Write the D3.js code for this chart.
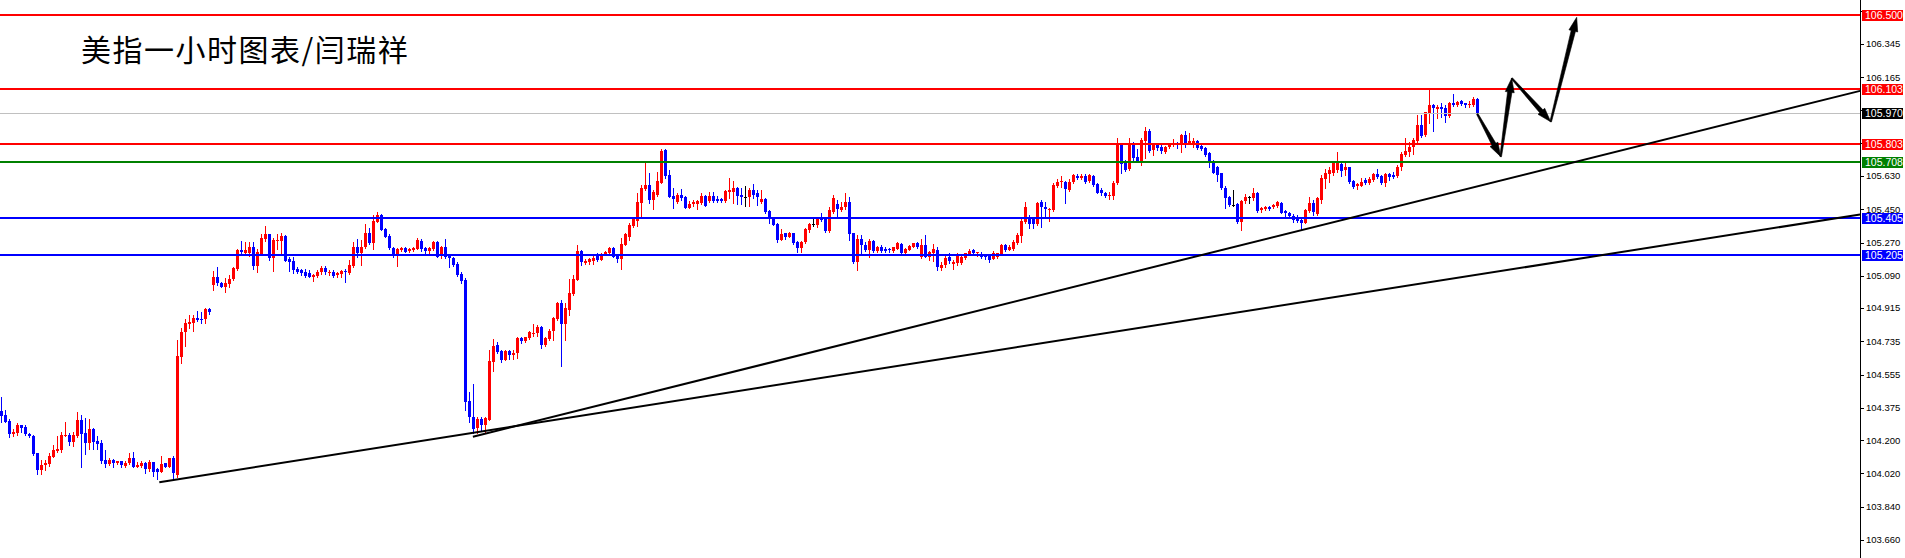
<!DOCTYPE html>
<html><head><meta charset="utf-8">
<script src="https://cdn.jsdelivr.net/npm/d3@7"></script>
<style>html,body{margin:0;padding:0;background:#fff;overflow:hidden}</style>
</head><body>
<svg id="c" width="1905" height="558" style="display:block"></svg>
<script>
const title = "美指一小时图表/闫瑞祥";
// [open, high, low, close] per hour
const ohlc = [
[104.360,104.435,104.300,104.333],[104.338,104.365,104.300,104.300],[104.306,104.317,104.219,104.235],[104.235,104.262,104.225,104.246],
[104.241,104.295,104.230,104.284],[104.284,104.284,104.246,104.268],[104.273,104.284,104.230,104.235],[104.235,104.241,104.219,104.225],
[104.225,104.230,104.121,104.127],[104.132,104.132,104.018,104.040],[104.040,104.094,104.018,104.067],[104.067,104.094,104.040,104.078],
[104.073,104.132,104.062,104.116],[104.110,104.175,104.110,104.148],[104.143,104.225,104.137,104.154],[104.148,104.246,104.137,104.230],
[104.225,104.300,104.225,104.230],[104.230,104.241,104.175,104.192],[104.192,104.246,104.170,104.230],[104.225,104.354,104.219,104.311],
[104.311,104.338,104.056,104.235],[104.241,104.322,104.127,104.186],[104.186,104.317,104.154,104.262],[104.262,104.268,104.154,104.192],
[104.197,104.225,104.154,104.181],[104.186,104.202,104.078,104.089],[104.094,104.148,104.056,104.073],[104.073,104.105,104.067,104.094],
[104.094,104.100,104.056,104.078],[104.078,104.089,104.073,104.089],[104.089,104.089,104.056,104.067],[104.062,104.089,104.056,104.078],
[104.078,104.132,104.073,104.105],[104.105,104.137,104.056,104.056],[104.056,104.083,104.056,104.067],[104.062,104.089,104.056,104.078],
[104.078,104.083,104.024,104.045],[104.045,104.094,104.035,104.083],[104.083,104.083,104.008,104.029],[104.045,104.051,103.991,104.029],
[104.029,104.116,104.029,104.073],[104.078,104.078,104.056,104.056],[104.056,104.105,104.056,104.105],[104.105,104.116,103.991,104.024],
[104.013,104.744,104.002,104.657],[104.652,104.809,104.619,104.787],[104.787,104.857,104.711,104.836],[104.830,104.879,104.809,104.841],
[104.836,104.879,104.792,104.863],[104.863,104.900,104.847,104.852],[104.857,104.895,104.836,104.852],[104.857,104.917,104.836,104.911],
[104.911,104.917,104.884,104.895],[105.041,105.117,105.014,105.084],[105.084,105.138,105.041,105.052],[105.052,105.057,105.030,105.030],
[105.030,105.079,105.003,105.052],[105.046,105.095,105.030,105.073],[105.073,105.138,105.068,105.133],[105.128,105.236,105.122,105.230],
[105.230,105.279,105.214,105.219],[105.214,105.273,105.208,105.230],[105.214,105.273,105.198,105.246],[105.246,105.273,105.128,105.144],
[105.144,105.236,105.111,105.219],[105.208,105.317,105.203,105.295],[105.290,105.360,105.279,105.317],[105.317,105.317,105.176,105.187],
[105.187,105.295,105.117,105.284],[105.279,105.317,105.236,105.284],[105.279,105.322,105.214,105.306],[105.306,105.311,105.171,105.171],
[105.182,105.192,105.117,105.165],[105.171,105.192,105.106,105.122],[105.128,105.138,105.106,105.111],[105.122,105.128,105.095,105.106],
[105.111,105.128,105.084,105.090],[105.106,105.122,105.084,105.084],[105.084,105.100,105.062,105.095],[105.090,105.122,105.084,105.111],
[105.111,105.144,105.100,105.133],[105.133,105.144,105.100,105.111],[105.106,105.122,105.095,105.111],[105.111,105.122,105.084,105.090],
[105.095,105.111,105.084,105.106],[105.100,105.122,105.084,105.117],[105.117,105.128,105.057,105.111],[105.106,105.176,105.100,105.149],
[105.144,105.273,105.138,105.246],[105.246,105.290,105.192,105.214],[105.214,105.284,105.149,105.246],[105.246,105.371,105.241,105.322],
[105.322,105.349,105.263,105.268],[105.268,105.420,105.236,105.387],[105.382,105.436,105.382,105.420],[105.420,105.425,105.339,105.339],
[105.344,105.349,105.301,105.301],[105.306,105.317,105.236,105.241],[105.241,105.246,105.192,105.208],[105.208,105.241,105.144,105.236],
[105.230,105.246,105.225,105.241],[105.241,105.246,105.219,105.219],[105.225,105.241,105.219,105.236],[105.230,105.246,105.225,105.241],
[105.236,105.295,105.236,105.284],[105.279,105.290,105.225,105.236],[105.241,105.246,105.208,105.225],[105.225,105.246,105.214,105.241],
[105.236,105.279,105.230,105.273],[105.273,105.279,105.192,105.192],[105.198,105.252,105.187,105.246],[105.246,105.290,105.187,105.192],
[105.198,105.208,105.138,105.187],[105.187,105.192,105.144,105.149],[105.155,105.165,105.090,105.095],[105.100,105.111,105.052,105.062],
[105.068,105.079,104.365,104.408],[104.414,104.462,104.300,104.327],[104.327,104.505,104.241,104.262],[104.268,104.327,104.241,104.317],
[104.317,104.327,104.257,104.284],[104.284,104.327,104.241,104.322],[104.311,104.689,104.311,104.630],[104.625,104.749,104.576,104.711],
[104.716,104.733,104.673,104.679],[104.684,104.689,104.625,104.635],[104.635,104.689,104.635,104.684],[104.684,104.689,104.641,104.662],
[104.662,104.689,104.641,104.673],[104.673,104.760,104.646,104.754],[104.754,104.760,104.727,104.738],[104.738,104.760,104.733,104.760],
[104.754,104.792,104.749,104.787],[104.776,104.830,104.765,104.781],[104.781,104.825,104.765,104.814],[104.814,104.819,104.700,104.716],
[104.716,104.760,104.711,104.754],[104.749,104.803,104.744,104.792],[104.792,104.868,104.744,104.863],[104.857,104.949,104.852,104.944],
[104.944,104.960,104.603,104.830],[104.830,104.944,104.744,104.917],[104.906,105.073,104.879,104.998],[104.992,105.095,104.987,105.073],
[105.068,105.257,105.068,105.225],[105.225,105.230,105.149,105.165],[105.160,105.182,105.155,105.171],[105.165,105.187,105.155,105.182],
[105.171,105.203,105.155,105.187],[105.198,105.214,105.171,105.176],[105.176,105.214,105.176,105.208],[105.203,105.225,105.203,105.219],
[105.214,105.246,105.208,105.241],[105.241,105.246,105.192,105.192],[105.198,105.203,105.165,105.182],[105.182,105.295,105.128,105.263],
[105.257,105.322,105.257,105.317],[105.301,105.376,105.284,105.366],[105.360,105.409,105.355,105.398],[105.387,105.539,105.360,105.490],
[105.485,105.582,105.414,105.566],[105.561,105.706,105.555,105.582],[105.582,105.647,105.485,105.501],[105.501,105.555,105.452,105.544],
[105.528,105.652,105.523,105.604],[105.593,105.777,105.593,105.766],[105.771,105.777,105.620,105.631],[105.636,105.663,105.517,105.517],
[105.523,105.566,105.458,105.506],[105.490,105.539,105.485,105.528],[105.528,105.561,105.501,105.512],[105.517,105.523,105.458,105.458],
[105.458,105.496,105.458,105.479],[105.479,105.501,105.469,105.490],[105.479,105.501,105.452,105.496],[105.485,105.539,105.479,105.523],
[105.523,105.528,105.469,105.469],[105.496,105.544,105.490,105.523],[105.523,105.544,105.490,105.496],[105.506,105.523,105.490,105.496],
[105.506,105.512,105.490,105.496],[105.496,105.555,105.490,105.550],[105.544,105.620,105.512,105.555],[105.544,105.604,105.485,105.566],
[105.566,105.571,105.479,105.523],[105.528,105.566,105.479,105.517],[105.517,105.577,105.469,105.517],[105.517,105.566,105.469,105.555],
[105.555,105.588,105.512,105.528],[105.539,105.555,105.474,105.517],[105.490,105.555,105.485,105.506],[105.506,105.512,105.431,105.436],
[105.441,105.447,105.376,105.398],[105.403,105.409,105.366,105.366],[105.371,105.376,105.273,105.284],[105.284,105.344,105.284,105.317],
[105.322,105.322,105.290,105.301],[105.301,105.328,105.301,105.322],[105.322,105.322,105.263,105.268],[105.273,105.279,105.219,105.241],
[105.241,105.279,105.219,105.273],[105.273,105.349,105.268,105.344],[105.339,105.376,105.328,105.371],[105.371,105.403,105.360,105.371],
[105.366,105.409,105.355,105.403],[105.409,105.431,105.387,105.393],[105.403,105.409,105.328,105.333],[105.333,105.463,105.328,105.447],
[105.436,105.528,105.431,105.512],[105.479,105.501,105.409,105.452],[105.447,105.490,105.441,105.463],[105.463,105.539,105.452,105.490],
[105.490,105.517,105.284,105.317],[105.322,105.322,105.160,105.165],[105.165,105.311,105.122,105.290],[105.290,105.311,105.214,105.257],
[105.257,105.273,105.225,105.230],[105.230,105.290,105.192,105.279],[105.279,105.284,105.219,105.225],[105.225,105.252,105.219,105.246],
[105.246,105.257,105.219,105.225],[105.236,105.246,105.219,105.225],[105.236,105.241,105.219,105.230],[105.225,105.246,105.219,105.246],
[105.236,105.273,105.236,105.268],[105.263,105.268,105.208,105.214],[105.214,105.241,105.208,105.236],[105.230,105.257,105.230,105.252],
[105.246,105.268,105.246,105.268],[105.268,105.273,105.241,105.246],[105.192,105.290,105.187,105.257],[105.257,105.311,105.192,105.192],
[105.192,105.225,105.176,105.219],[105.214,105.263,105.171,105.236],[105.230,105.246,105.122,105.138],[105.133,105.165,105.122,105.149],
[105.149,105.203,105.138,105.187],[105.192,105.214,105.160,105.171],[105.155,105.176,105.128,105.165],[105.160,105.214,105.149,105.198],
[105.160,105.198,105.155,105.192],[105.187,105.214,105.182,105.214],[105.208,105.236,105.203,105.225],[105.230,105.236,105.203,105.214],
[105.214,105.219,105.198,105.219],[105.208,105.219,105.187,105.192],[105.203,105.208,105.182,105.192],[105.203,105.208,105.165,105.176],
[105.182,105.225,105.182,105.214],[105.192,105.214,105.187,105.214],[105.208,105.263,105.208,105.257],[105.257,105.263,105.225,105.230],
[105.230,105.257,105.230,105.246],[105.236,105.284,105.230,105.273],[105.268,105.322,105.263,105.311],[105.306,105.403,105.273,105.387],
[105.382,105.490,105.376,105.463],[105.409,105.420,105.349,105.371],[105.403,105.409,105.349,105.371],[105.371,105.490,105.366,105.485],
[105.490,105.501,105.355,105.463],[105.463,105.490,105.409,105.452],[105.447,105.458,105.387,105.452],[105.447,105.593,105.441,105.582],
[105.577,105.615,105.571,105.598],[105.598,105.631,105.571,105.604],[105.598,105.604,105.485,105.561],[105.555,105.615,105.550,105.598],
[105.598,105.642,105.593,105.636],[105.631,105.642,105.615,105.620],[105.620,105.642,105.615,105.631],[105.631,105.642,105.593,105.598],
[105.604,105.642,105.598,105.636],[105.631,105.636,105.577,105.582],[105.588,105.593,105.539,105.539],[105.555,105.566,105.528,105.539],
[105.539,105.544,105.517,105.523],[105.523,105.544,105.506,105.528],[105.523,105.604,105.506,105.593],[105.593,105.836,105.588,105.809],
[105.798,105.809,105.647,105.696],[105.706,105.717,105.658,105.663],[105.669,105.836,105.663,105.809],[105.804,105.815,105.717,105.728],
[105.733,105.777,105.706,105.706],[105.706,105.836,105.690,105.825],[105.820,105.896,105.728,105.874],[105.874,105.885,105.760,105.766],
[105.771,105.809,105.744,105.809],[105.798,105.809,105.771,105.782],[105.787,105.798,105.755,105.766],[105.760,105.793,105.755,105.787],
[105.787,105.809,105.782,105.804],[105.798,105.831,105.793,105.809],[105.809,105.815,105.782,105.804],[105.804,105.858,105.760,105.853],
[105.853,105.874,105.787,105.804],[105.804,105.863,105.804,105.820],[105.809,105.836,105.787,105.820],[105.820,105.825,105.777,105.782],
[105.793,105.798,105.771,105.777],[105.782,105.787,105.739,105.744],[105.755,105.760,105.680,105.701],[105.706,105.717,105.647,105.647],
[105.680,105.685,105.604,105.636],[105.647,105.647,105.561,105.566],[105.566,105.577,105.458,105.512],[105.517,105.523,105.469,105.474],
[105.474,105.555,105.469,105.474],[105.479,105.485,105.376,105.382],[105.382,105.501,105.339,105.496],[105.496,105.533,105.485,105.517],
[105.517,105.523,105.485,105.517],[105.512,105.566,105.501,105.539],[105.539,105.544,105.436,105.441],[105.447,105.463,105.436,105.458],
[105.452,105.469,105.447,105.463],[105.463,105.469,105.447,105.452],[105.463,105.479,105.458,105.474],[105.469,105.496,105.463,105.490],
[105.485,105.490,105.431,105.431],[105.441,105.447,105.409,105.431],[105.431,105.436,105.403,105.414],[105.414,105.425,105.382,105.393],
[105.409,105.420,105.382,105.387],[105.393,105.398,105.339,105.376],[105.376,105.452,105.376,105.447],[105.441,105.517,105.436,105.485],
[105.485,105.501,105.420,105.436],[105.425,105.517,105.420,105.512],[105.501,105.636,105.485,105.620],[105.615,105.669,105.566,105.647],
[105.642,105.680,105.598,105.663],[105.647,105.712,105.636,105.701],[105.663,105.760,105.652,105.701],[105.696,105.701,105.631,105.658],
[105.663,105.706,105.636,105.680],[105.680,105.680,105.593,105.598],[105.604,105.609,105.566,105.571],[105.577,105.593,105.561,105.588],
[105.577,105.620,105.577,105.598],[105.609,105.620,105.588,105.593],[105.593,105.625,105.588,105.615],[105.609,105.647,105.604,105.642],
[105.642,105.669,105.620,105.625],[105.631,105.636,105.588,105.593],[105.593,105.647,105.577,105.642],[105.642,105.647,105.609,105.625],
[105.636,105.652,105.620,105.625],[105.631,105.690,105.625,105.680],[105.680,105.760,105.663,105.750],[105.744,105.836,105.739,105.766],
[105.760,105.815,105.739,105.787],[105.787,105.836,105.750,105.825],[105.820,105.961,105.815,105.907],[105.907,105.961,105.842,105.847],
[105.853,105.977,105.847,105.977],[105.972,106.101,105.917,106.015],[106.015,106.020,105.874,105.999],[105.993,106.015,105.945,106.004],
[106.004,106.026,105.950,105.993],[105.999,106.015,105.923,105.955],[105.955,106.031,105.950,106.026],[106.026,106.074,106.010,106.015],
[106.015,106.036,106.010,106.031],[106.036,106.042,106.015,106.020],[106.026,106.026,106.004,106.015],[106.015,106.036,106.004,106.020],
[106.015,106.058,106.010,106.047],[106.047,106.053,105.961,105.970]
];
const redLevels = [106.500, 106.103, 105.803];
const greenLevels = [105.708];
const blueLevels = [105.405, 105.205];
const currentPrice = 105.970;
// axis ticks; labels hidden under the price tags in the original are not printed
const tickValues = [106.525,106.345,106.165,105.990,105.810,105.630,105.450,105.270,105.090,104.915,104.735,104.555,104.375,104.200,104.020,103.840,103.660];
const tickLabels = ["","106.345","106.165","","","105.630","105.450","105.270","105.090","104.915","104.735","104.555","104.375","104.200","104.020","103.840","103.660"];
// trend lines: [barIndex, price] endpoints
const trendLineLow = [[39.5, 103.973], [464.7, 105.422]];
const trendLineHigh = [[117.9, 104.219], [464.7, 106.091]];
// forecast arrow path: [barIndex, price]
const forecastPath = [[369, 105.966], [374.85, 105.735], [377.6, 106.159], [387.35, 105.924], [393.85, 106.489]];

const axisX = 1860;
const x = d3.scaleLinear().domain([0, 465]).range([1.3, 1861.3]);
const y = d3.scaleLinear().domain([103.66, 106.5]).range([540, 15.3]);
const svg = d3.select('#c');

// candles
const colorOf = d => d[3] > d[0] ? '#ff0000' : (d[3] < d[0] ? '#0000ff' : '#000000');
const cg = svg.append('g');
cg.selectAll('line.w').data(ohlc).join('line').attr('class','w')
  .attr('x1', (d,i) => Math.round(x(i)) + 0.5).attr('x2', (d,i) => Math.round(x(i)) + 0.5)
  .attr('y1', d => Math.round(y(d[1]))).attr('y2', d => Math.round(y(d[2])) + 1)
  .attr('stroke', colorOf).attr('stroke-width', 1);
cg.selectAll('rect.b').data(ohlc).join('rect').attr('class','b')
  .attr('x', (d,i) => Math.round(x(i)) - 1)
  .attr('y', d => Math.round(y(Math.max(d[0], d[3]))))
  .attr('width', 3)
  .attr('height', d => Math.max(1, Math.round(y(Math.min(d[0], d[3]))) - Math.round(y(Math.max(d[0], d[3])))))
  .attr('fill', colorOf);

// current price line
svg.append('line').attr('x1', 0).attr('x2', axisX).attr('y1', Math.round(y(currentPrice)) + 0.5).attr('y2', Math.round(y(currentPrice)) + 0.5)
  .attr('stroke', '#c0c0c0').attr('stroke-width', 1);

// levels
function levels(vals, color) {
  svg.append('g').selectAll('line').data(vals).join('line')
    .attr('x1', 0).attr('x2', axisX)
    .attr('y1', d => Math.round(y(d))).attr('y2', d => Math.round(y(d)))
    .attr('stroke', color).attr('stroke-width', 2);
}
levels(redLevels, '#ff0000');
levels(greenLevels, '#008000');
levels(blueLevels, '#0000ff');

// trend lines
[trendLineLow, trendLineHigh].forEach(tl => {
  svg.append('line').attr('x1', x(tl[0][0])).attr('y1', y(tl[0][1])).attr('x2', x(tl[1][0])).attr('y2', y(tl[1][1]))
    .attr('stroke', '#000').attr('stroke-width', 2);
});

// forecast arrows: tapered shafts with long heads
function arrowPoly(ax, ay, bx, by) {
  const dx = bx - ax, dy = by - ay, L = Math.hypot(dx, dy);
  const ux = dx / L, uy = dy / L, nx = -uy, ny = ux;
  const head = 14, hw = 4.5, w0 = 0.8, w1 = 2.2;
  const hx = bx - ux * head, hy = by - uy * head;
  const pts = [
    [ax + nx * w0, ay + ny * w0], [hx + nx * w1, hy + ny * w1], [hx + nx * hw, hy + ny * hw], [bx, by],
    [hx - nx * hw, hy - ny * hw], [hx - nx * w1, hy - ny * w1], [ax - nx * w0, ay - ny * w0]
  ];
  return 'M' + pts.map(p => p[0].toFixed(2) + ',' + p[1].toFixed(2)).join('L') + 'Z';
}
const ag0 = svg.append('g');
for (let i = 0; i < forecastPath.length - 1; i++) {
  const a = forecastPath[i], b = forecastPath[i + 1];
  ag0.append('path').attr('d', arrowPoly(x(a[0]), y(a[1]), x(b[0]), y(b[1]))).attr('fill', '#000').attr('stroke', '#000').attr('stroke-width', 0.6);
}

// axis
svg.append('rect').attr('x', axisX + 1).attr('y', 0).attr('width', 1905 - axisX).attr('height', 558).attr('fill', '#fff');
svg.append('line').attr('x1', axisX + 0.5).attr('x2', axisX + 0.5).attr('y1', 0).attr('y2', 558).attr('stroke', '#000');
const ag = svg.append('g');
ag.selectAll('line').data(tickValues).join('line')
  .attr('x1', axisX).attr('x2', axisX + 4)
  .attr('y1', d => Math.round(y(d)) + 0.5).attr('y2', d => Math.round(y(d)) + 0.5).attr('stroke', '#000');
ag.selectAll('text').data(tickValues).join('text')
  .attr('x', axisX + 6).attr('y', d => y(d)).attr('dy', '0.35em')
  .attr('font-family', 'Liberation Sans, Arial, sans-serif').attr('font-size', '9.5px').attr('fill', '#000')
  .text((d, i) => tickLabels[i]);

// price tags
const tags = [];
redLevels.forEach(v => tags.push([v, '#ff0000']));
tags.push([currentPrice, '#000000']);
greenLevels.forEach(v => tags.push([v, '#008000']));
blueLevels.forEach(v => tags.push([v, '#0000ff']));
const tg = svg.append('g').selectAll('g').data(tags).join('g');
tg.append('rect').attr('x', axisX + 2).attr('y', d => Math.round(y(d[0])) - 5).attr('width', 41).attr('height', 11).attr('fill', d => d[1]);
tg.append('text').attr('x', axisX + 5).attr('y', d => Math.round(y(d[0])) + 0.5).attr('dy', '0.35em')
  .attr('font-family', 'Liberation Sans, Arial, sans-serif').attr('font-size', '10.5px').attr('fill', '#fff')
  .text(d => d[0].toFixed(3));

// title
svg.append('text').attr('x', 81).attr('y', 61).attr('font-family', 'Noto Sans CJK SC').attr('font-size', '30px')
  .attr('letter-spacing', '1.5px').attr('fill', '#000').text(title);
</script>
</body></html>
